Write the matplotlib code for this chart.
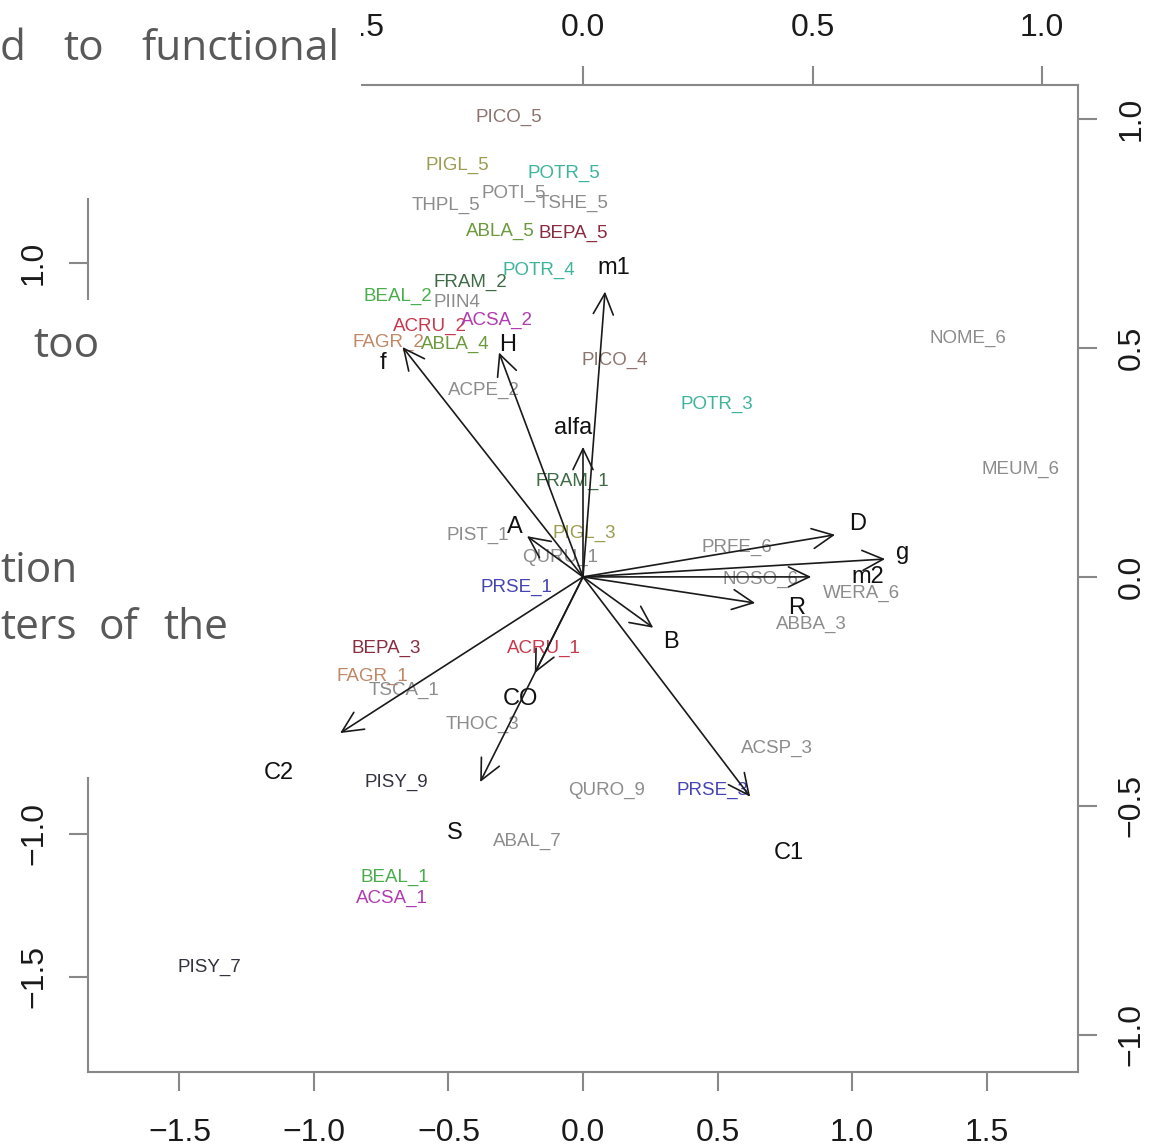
import matplotlib
matplotlib.use("Agg")
import matplotlib.pyplot as plt
from matplotlib.patches import Rectangle
from matplotlib.ticker import FuncFormatter

plt.rcParams['font.family'] = ['Liberation Sans', 'DejaVu Sans']

# species scores (bottom / left axes)
species = ["PICO_5", "PIGL_5", "POTR_5", "POTI_5", "THPL_5", "TSHE_5", "ABLA_5", "BEPA_5",
           "POTR_4", "FRAM_2", "BEAL_2", "PIIN4", "ACRU_2", "ACSA_2", "FAGR_2", "ABLA_4",
           "PICO_4", "ACPE_2", "POTR_3", "NOME_6", "MEUM_6", "FRAM_1", "PIST_1", "PIGL_3",
           "QURU_1", "PRSE_1", "PRFE_6", "NOSO_6", "WERA_6", "ABBA_3", "BEPA_3", "ACRU_1",
           "FAGR_1", "TSCA_1", "THOC_3", "ACSP_3", "PISY_9", "QURO_9", "PRSE_3", "ABAL_7",
           "BEAL_1", "ACSA_1", "PISY_7"]
sp_x = [-0.275, -0.468, -0.071, -0.257, -0.509, -0.037, -0.309, -0.037,
        -0.164, -0.420, -0.688, -0.468, -0.569, -0.320, -0.725, -0.476,
        0.119, -0.368, 0.498, 1.431, 1.628, -0.041, -0.390, 0.004,
        -0.086, -0.249, 0.572, 0.658, 1.037, 0.848, -0.732, -0.145,
        -0.784, -0.665, -0.372, 0.721, -0.695, 0.089, 0.480, -0.208,
        -0.699, -0.710, -1.387]
sp_y = [1.511, 1.343, 1.312, 1.245, 1.200, 1.207, 1.109, 1.102,
        0.975, 0.933, 0.881, 0.860, 0.776, 0.797, 0.723, 0.713,
        0.657, 0.555, 0.503, 0.734, 0.275, 0.236, 0.044, 0.054,
        -0.030, -0.135, 0.005, -0.110, -0.159, -0.265, -0.352, -0.350,
        -0.447, -0.496, -0.615, -0.699, -0.821, -0.846, -0.846, -1.028,
        -1.154, -1.227, -1.466]

# trait loadings (top / right axes)
traits = ["m1", "f", "H", "alfa", "A", "D", "g", "m2", "R", "B", "CO", "S", "C2", "C1"]
arr_x = [0.048, -0.393, -0.183, 0.0, -0.122, 0.549, 0.658, 0.497, 0.375, 0.153, -0.105, -0.224, -0.529, 0.364]
arr_y = [0.623, 0.502, 0.490, 0.284, 0.089, 0.092, 0.039, 0.0, -0.057, -0.111, -0.210, -0.448, -0.341, -0.480]
lab_x = [0.068, -0.436, -0.164, -0.022, -0.148, 0.597, 0.697, 0.621, 0.466, 0.192, -0.137, -0.279, -0.662, 0.449]
lab_y = [0.675, 0.468, 0.506, 0.325, 0.109, 0.116, 0.052, 0.0, -0.068, -0.142, -0.266, -0.559, -0.428, -0.602]

colors = {"PICO": "#8c7470", "PIGL": "#9c9c52", "POTR": "#3fb49c", "ABLA": "#6a9a3c",
          "BEPA": "#8a2c40", "FRAM": "#3e6b46", "BEAL": "#4aad4c", "ACRU": "#c8384e",
          "ACSA": "#b03cb0", "FAGR": "#c08866", "PRSE": "#4444b4", "PISY": "#333340"}
gray = "#8c8c8c"

W, H = 1155, 1147
fig = plt.figure(figsize=(W / 100, H / 100), dpi=100)
L, R, T, B = 88, 1078, 85, 1072
pos = [L / W, 1 - B / H, (R - L) / W, (B - T) / H]

ax = fig.add_axes(pos)
ax.set_xlim(-1.840, 1.840)
ax.set_ylim(-1.834, 1.623)
ax2 = fig.add_axes(pos, frameon=False)
ax2.set_xlim(-1.078, 1.078)
ax2.set_ylim(-1.081, 1.074)

axcol = "#888888"
for s in ax.spines.values():
    s.set_color(axcol)
    s.set_linewidth(1.5)

fmt = FuncFormatter(lambda v, p: f"{v:.1f}".replace('-', '\u2212'))

ax.set_xticks([-1.5, -1.0, -0.5, 0.0, 0.5, 1.0, 1.5])
ax.set_yticks([-1.5, -1.0, 1.0])
ax.xaxis.set_major_formatter(fmt)
ax.yaxis.set_major_formatter(fmt)
ax.tick_params(axis='both', direction='out', length=14, width=1.5, color=axcol,
               labelsize=23, labelcolor='#1a1a1a', pad=14)
ax.tick_params(axis='x', pad=19)
for t in ax.get_yticklabels():
    t.set_rotation(90)
    t.set_va('center')

ax2.xaxis.tick_top()
ax2.yaxis.tick_right()
ax2.set_xticks([-0.5, 0.0, 0.5, 1.0])
ax2.set_yticks([-1.0, -0.5, 0.0, 0.5, 1.0])
ax2.xaxis.set_major_formatter(fmt)
ax2.yaxis.set_major_formatter(fmt)
ax2.tick_params(axis='both', direction='out', length=14, width=1.5, color=axcol,
                labelsize=23, labelcolor='#1a1a1a', pad=14)
ax2.tick_params(axis='x', pad=16)
for t in ax2.get_yticklabels():
    t.set_rotation(90)
    t.set_va('center')

for name, x, y in zip(species, sp_x, sp_y):
    c = colors.get(name[:4], gray)
    ax.text(x, y, name, color=c, fontsize=13.5, ha='center', va='center')

for ax_, ay, lx, ly, name in zip(arr_x, arr_y, lab_x, lab_y, traits):
    ax2.annotate('', xy=(ax_, ay), xytext=(0, 0),
                 arrowprops=dict(arrowstyle='->,head_length=1.5,head_width=0.72',
                                 mutation_scale=10, lw=1.2, color='#1a1a1a',
                                 shrinkA=0, shrinkB=0))
    ax2.text(lx, ly, name, color='#111111', fontsize=17, ha='center', va='center')

# page text laid over the figure
fig.add_artist(Rectangle((0, 1 - 198 / H), 361 / W, 198 / H, transform=fig.transFigure,
                         facecolor='white', edgecolor='none', zorder=10))
fig.add_artist(Rectangle((0, 1 - 777 / H), 250 / W, 477 / H, transform=fig.transFigure,
                         facecolor='white', edgecolor='none', zorder=10))

words = [("d", 0, 60), ("to", 63, 60), ("functional", 141, 60), ("too", 33, 357),
         ("tion", 0, 582), ("ters", 0, 639), ("of", 99, 639), ("the", 163, 639)]
for w, x, y in words:
    fig.text(x / W, 1 - y / H, w, fontsize=30.5, color='#595959', family=['Open Sans', 'DejaVu Sans'],
             ha='left', va='baseline', zorder=11)

fig.savefig('out.png', dpi=100)
